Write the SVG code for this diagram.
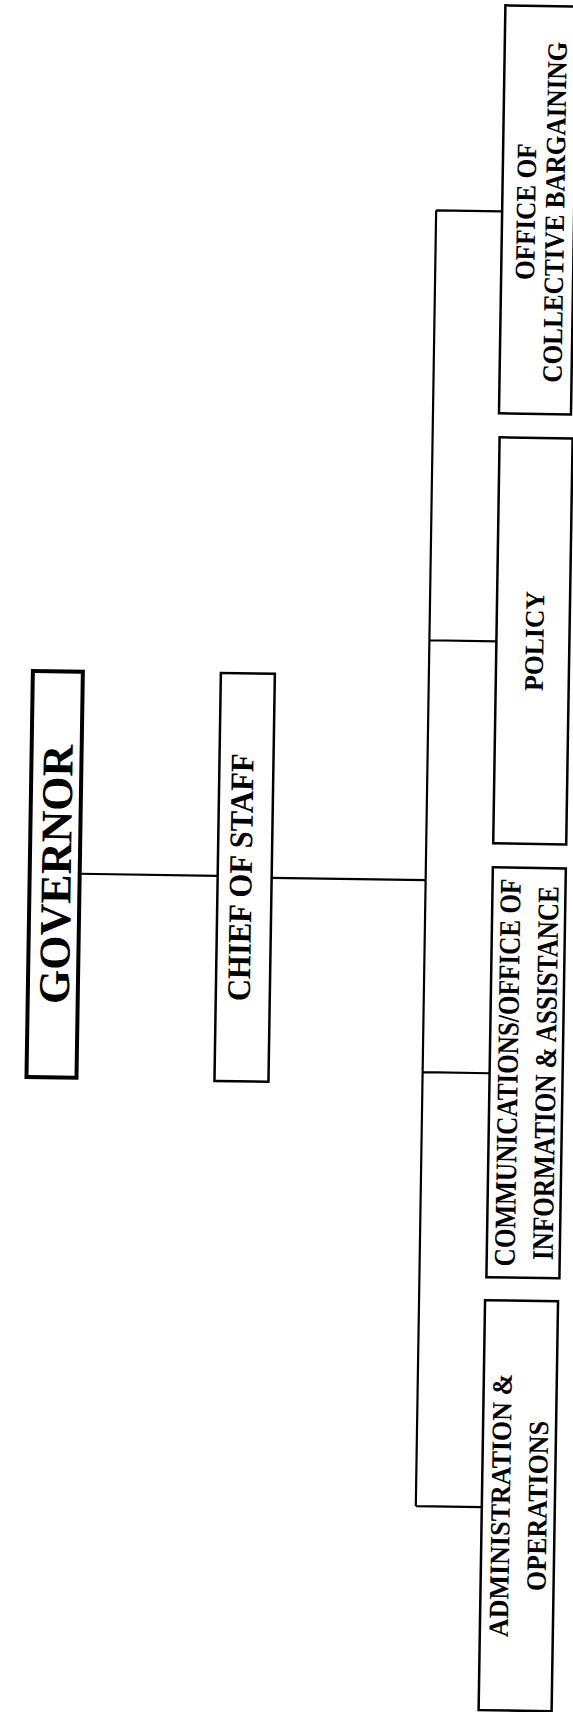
<svg xmlns="http://www.w3.org/2000/svg" width="573" height="1712" viewBox="0 0 573 1712">
<style>
.box{fill:#fff;stroke:#000;stroke-width:2.5}
.gov{stroke-width:4}
.ln{stroke:#000;stroke-width:2.2;fill:none}
text{font-family:"Liberation Serif","Times New Roman",serif;font-weight:bold;fill:#000;text-anchor:middle}
</style>
<rect width="573" height="1712" fill="#fff"/>
<g transform="rotate(0.9 286 856)">
<g id="connectors">
<path class="ln" d="M80 877H218 M272 878H426 M426 208V1504 M426 208H492 M426 638H493 M426 1070H493 M426 1504H492"/>
</g>
<g id="governor">
<rect class="box gov" x="30" y="675" width="50" height="406"/>
<text transform="translate(71 878) rotate(-90)" font-size="44">GOVERNOR</text>
</g>
<g id="chief-of-staff">
<rect class="box" x="218" y="674" width="54" height="408"/>
<text transform="translate(252 878) rotate(-90) scale(0.93 1)" font-size="33">CHIEF OF STAFF</text>
</g>
<g id="collective-bargaining">
<rect class="box" x="492" y="2" width="72" height="408"/>
<text transform="translate(525 208) rotate(-90) scale(0.9 1)" font-size="28">OFFICE OF</text>
<text transform="translate(554 208) rotate(-90) scale(0.9 1)" font-size="28">COLLECTIVE BARGAINING</text>
</g>
<g id="policy">
<rect class="box" x="493" y="434" width="73" height="406"/>
<text transform="translate(540 637) rotate(-90) scale(0.95 1)" font-size="27">POLICY</text>
</g>
<g id="communications">
<rect class="box" x="493" y="864" width="73" height="410"/>
<text transform="translate(521 1069) rotate(-90) scale(0.84 1)" font-size="30">COMMUNICATIONS/OFFICE OF</text>
<text transform="translate(559 1069) rotate(-90) scale(0.84 1)" font-size="30">INFORMATION &amp; ASSISTANCE</text>
</g>
<g id="administration">
<rect class="box" x="492" y="1297" width="73" height="410"/>
<text transform="translate(520 1502) rotate(-90) scale(0.93 1)" font-size="28">ADMINISTRATION &amp;</text>
<text transform="translate(557 1502) rotate(-90) scale(0.93 1)" font-size="28">OPERATIONS</text>
</g>
</g>
</svg>
